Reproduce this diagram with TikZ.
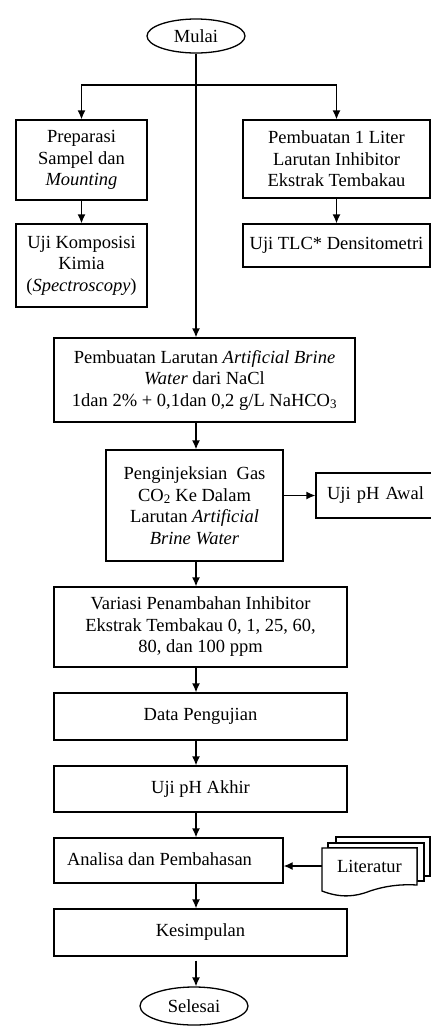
\documentclass[tikz,border=0pt]{standalone}
\usepackage{fontspec}
\setmainfont{Liberation Serif}
\usetikzlibrary{arrows.meta,shapes.geometric}
\begin{document}
\begin{tikzpicture}[x=1pt,y=-1pt,
  every node/.style={font=\fontsize{18.5}{21.5}\selectfont, align=center, inner sep=1pt},
  box/.style={draw, line width=1.3pt, minimum width=#1},
  term/.style={draw, ellipse, line width=1.3pt, inner sep=0pt},
  arr/.style={line width=1.3pt, -{Latex[length=9pt,width=8pt]}},
  ln/.style={line width=1.3pt}
]
\useasboundingbox (0,0) rectangle (431,1026);
\clip (0,0) rectangle (431,1026);

\node[term, minimum width=98pt, minimum height=34pt] (mulai) at (196,36) {Mulai};
\node[box=131pt, minimum height=80pt] (prep) at (81.5,160) {Preparasi\\Sampel dan\\\textit{Mounting}};
\node[box=187pt, minimum height=78pt] (pemb1) at (336.5,159) {Pembuatan 1 Liter\\Larutan Inhibitor\\Ekstrak Tembakau};
\node[box=131pt, minimum height=83pt] (komp) at (81.5,265.5) {Uji Komposisi\\Kimia\\(\textit{Spectroscopy})};
\node[box=187pt, minimum height=43pt] (tlc) at (336.5,245.5) {Uji TLC* Densitometri};
\node[box=301pt, minimum height=84pt] (brine) at (204.5,380) {Pembuatan Larutan \textit{Artificial Brine}\\\textit{Water} dari NaCl\\1dan 2\% + 0,1dan 0,2 g/L NaHCO\textsubscript{3}};
\node[box=177pt, minimum height=111pt] (inj) at (194.5,505.5) {Penginjeksian~ Gas\\CO\textsubscript{2} Ke Dalam\\Larutan \textit{Artificial}\\\textit{Brine Water}};
\node[box=130pt, minimum height=45pt, text width=124pt, align=left] (awal) at (381,495.5) {\hspace{8pt}Uji pH Awal};
\node[box=293pt, minimum height=80pt] (variasi) at (200.5,627) {Variasi Penambahan Inhibitor\\Ekstrak Tembakau 0, 1, 25, 60,\\80, dan 100 ppm};
\node[box=293pt, minimum height=47pt] (data) at (200.5,716.5) {Data Pengujian};
\node[box=293pt, minimum height=46pt] (akhir) at (200.5,789) {Uji pH Akhir};
\node[box=229pt, minimum height=45pt] (analisa) at (168.5,860.5) {\raisebox{3pt}{Analisa dan Pembahasan}\hspace{18pt}};
\node[box=293pt, minimum height=47pt] (kesimpulan) at (200.5,932.5) {Kesimpulan};
\node[term, minimum width=108pt, minimum height=38pt] (selesai) at (194,1006) {Selesai};

% Literatur multi-document
\filldraw[fill=white, ln] (336,837) -- (430,837) -- (430,876) -- (417,876) -- (417,848) -- (336,848) -- cycle;
\filldraw[fill=white, ln] (328,843) -- (424,843) -- (424,881) -- (417,881) -- (417,848) -- (328,848) -- cycle;
\filldraw[fill=white, ln] (322,848) -- (417,848) -- (417,885)
  .. controls (400,884) and (385,886) .. (370,891)
  .. controls (355,897) and (340,898) .. (322,891) -- cycle;
\node (lit) at (369.5,866) [minimum width=95pt, minimum height=36pt] {Literatur};

% connectors
\coordinate (br) at (196,85);
\draw[ln] (mulai.south) -- (br);
\draw[arr] (br) -| (prep.north);
\draw[arr] (br) -| (pemb1.north);
\draw[arr] (br) -- (br |- brine.north);
\draw[arr] (prep.south) -- (komp.north);
\draw[arr] (pemb1.south) -- (tlc.north);
\draw[arr] (br |- brine.south) -- (br |- inj.north);
\draw[arr] (inj.east |- awal.west) -- (awal.west);
\draw[arr] (br |- inj.south) -- (br |- variasi.north);
\draw[arr] (br |- variasi.south) -- (br |- data.north);
\draw[arr] (br |- data.south) -- (br |- akhir.north);
\draw[arr] (br |- akhir.south) -- (br |- analisa.north);
\draw[arr] (lit.west) -- (analisa.east |- lit.west);
\draw[arr] (br |- analisa.south) -- (br |- kesimpulan.north);
\draw[arr] ([yshift=-4pt]br |- kesimpulan.south) -- (br |- selesai.north);
\end{tikzpicture}
\end{document}
